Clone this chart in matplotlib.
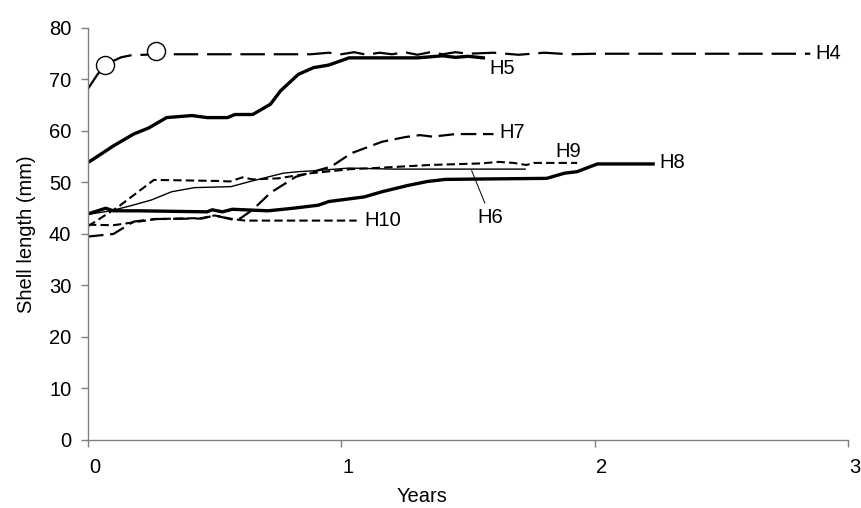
import matplotlib
matplotlib.use("Agg")
import matplotlib.pyplot as plt
from matplotlib.transforms import ScaledTranslation

plt.rcParams['font.family'] = ['Liberation Sans', 'DejaVu Sans']

# growth curves, years vs shell length (mm)
h4_x = [0, 0.035, 0.069, 0.13, 0.17, 0.27, 0.5, 0.88, 0.95, 1.0, 1.05, 1.1, 1.15, 1.2, 1.25,
        1.3, 1.35, 1.4, 1.45, 1.5, 1.6, 1.7, 1.8, 1.9, 2.0, 2.85]
h4_y = [68.2, 70.8, 72.9, 74.3, 74.7, 74.9, 74.9, 74.9, 75.2, 74.9, 75.3, 74.8, 75.2, 74.9, 75.3,
        74.8, 75.3, 74.9, 75.3, 75.0, 75.2, 74.8, 75.2, 74.9, 75.0, 75.0]

circ_x = [0.069, 0.27]
circ_y = [72.9, 75.5]

h5_x = [0, 0.02, 0.1, 0.18, 0.24, 0.31, 0.41, 0.47, 0.55, 0.58, 0.65, 0.72, 0.76, 0.83, 0.89,
        0.95, 1.03, 1.2, 1.3, 1.4, 1.45, 1.5, 1.56]
h5_y = [53.9, 54.5, 57.1, 59.4, 60.6, 62.6, 63.0, 62.6, 62.6, 63.2, 63.2, 65.2, 67.8, 71.0, 72.3,
        72.8, 74.2, 74.2, 74.2, 74.6, 74.3, 74.5, 74.2]

h6_x = [0, 0.09, 0.17, 0.25, 0.33, 0.42, 0.565, 0.64, 0.77, 0.83, 0.9, 1.03, 1.2, 1.725]
h6_y = [43.8, 44.5, 45.5, 46.6, 48.2, 49.0, 49.2, 50.2, 51.8, 52.1, 52.3, 52.8, 52.6, 52.6]

h7_x = [0, 0.1, 0.18, 0.26, 0.45, 0.5, 0.57, 0.6, 0.65, 0.72, 0.82, 0.96, 1.04, 1.16, 1.25,
        1.31, 1.36, 1.45, 1.6]
h7_y = [39.5, 40.0, 42.4, 42.9, 43.0, 43.6, 42.8, 43.0, 44.7, 48.0, 51.1, 53.1, 55.7, 57.9, 58.8,
        59.2, 58.9, 59.4, 59.4]

h8_x = [0, 0.07, 0.1, 0.2, 0.47, 0.49, 0.53, 0.57, 0.71, 0.81, 0.91, 0.95, 1.09, 1.16, 1.26,
        1.34, 1.41, 1.6, 1.81, 1.88, 1.93, 2.01, 2.23]
h8_y = [43.9, 45.0, 44.5, 44.5, 44.3, 44.7, 44.3, 44.8, 44.5, 45.0, 45.6, 46.3, 47.2, 48.2, 49.4,
        50.2, 50.6, 50.7, 50.8, 51.8, 52.1, 53.6, 53.6]

h9_x = [0, 0.12, 0.26, 0.51, 0.56, 0.61, 0.65, 0.75, 0.88, 1.04, 1.13, 1.35, 1.55, 1.62, 1.68,
        1.73, 1.76, 1.93]
h9_y = [41.5, 45.3, 50.5, 50.3, 50.2, 51.0, 50.6, 50.8, 51.8, 52.6, 52.8, 53.4, 53.7, 54.0, 53.8,
        53.4, 53.8, 53.8]

h10_x = [0, 0.1, 0.27, 0.45, 0.5, 0.57, 0.62, 1.06]
h10_y = [41.8, 41.7, 42.9, 43.1, 43.6, 42.9, 42.6, 42.6]

x_ticks = [0, 1, 2, 3]
y_ticks = [0, 10, 20, 30, 40, 50, 60, 70, 80]

fig = plt.figure(figsize=(8.61, 5.08), dpi=100)
ax = fig.add_axes([0.1022, 0.1339, 0.883, 0.811])

k = 'black'
ax.plot(h4_x, h4_y, color=k, lw=1.6, dashes=(11, 4))
ax.plot(circ_x, circ_y, 'o', ms=13, mfc='white', mec=k, mew=1.0, zorder=5)
ax.plot(h5_x, h5_y, color=k, lw=2.4, solid_joinstyle='round')
ax.plot(h6_x, h6_y, color=k, lw=1.0)
ax.plot(h7_x, h7_y, color=k, lw=1.6, dashes=(7, 3))
ax.plot(h8_x, h8_y, color=k, lw=2.4, solid_joinstyle='round')
ax.plot(h9_x, h9_y, color=k, lw=1.5, dashes=(4, 2))
ax.plot(h10_x, h10_y, color=k, lw=1.5, dashes=(4, 2))

# series labels
fs = 14.5
ax.text(2.87, 75.1, 'H4', fontsize=fs, va='center')
ax.text(1.585, 72.2, 'H5', fontsize=fs, va='center')
ax.text(1.625, 59.7, 'H7', fontsize=fs, va='center')
ax.text(1.845, 56.0, 'H9', fontsize=fs, va='center')
ax.text(2.255, 53.8, 'H8', fontsize=fs, va='center')
ax.text(1.09, 42.6, 'H10', fontsize=fs, va='center')
ax.text(1.535, 43.2, 'H6', fontsize=fs, va='center')
ax.plot([1.514, 1.566], [52.3, 46.0], color=k, lw=0.7)

ax.set_xlim(0, 3)
ax.set_ylim(0, 80)
ax.set_xticks(x_ticks)
ax.set_yticks(y_ticks)

for s in ['top', 'right']:
    ax.spines[s].set_visible(False)
for s in ['left', 'bottom']:
    ax.spines[s].set_color('#808080')
    ax.spines[s].set_linewidth(1.0)
ax.tick_params(colors='#808080', labelcolor='black', labelsize=fs, length=5, width=1.0)
ax.tick_params(axis='x', pad=8)
ax.tick_params(axis='y', pad=7)

# nudge x tick labels a little to the right
off = ScaledTranslation(7 / 100, 0, fig.dpi_scale_trans)
for lab in ax.get_xticklabels():
    lab.set_transform(lab.get_transform() + off)

ax.set_xlabel('Years', fontsize=fs)
ax.xaxis.set_label_coords(0.44, -0.113)
ax.set_ylabel('Shell length (mm)', fontsize=fs)
ax.yaxis.set_label_coords(-0.068, 0.5)

fig.savefig('out.png', dpi=100)
